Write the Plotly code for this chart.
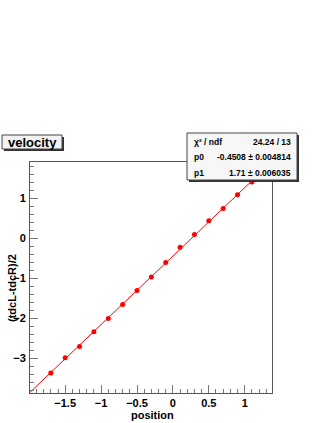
import plotly.graph_objects as go

# ========== DATA ==========
position = [-1.7, -1.5, -1.3, -1.1, -0.9, -0.7, -0.5, -0.3, -0.1, 0.1, 0.3, 0.5, 0.7, 0.9, 1.1]
half_diff = [-3.37, -2.99, -2.71, -2.34, -2.01, -1.66, -1.31, -0.97, -0.61, -0.23, 0.09, 0.43, 0.74, 1.08, 1.40]

p0, p0_err = -0.4508, 0.004814
p1, p1_err = 1.71, 0.006035
chi2, ndf = 24.24, 13

x_range = [-1.99, 1.38]
y_range = [-3.87, 1.9]

# ========== LAYOUT IN PIXELS ==========
L, R, T, B = 30, 272, 162, 393
W, H = R - L, B - T


def px(x):
    return (x - L) / W


def py(y):
    return (B - y) / H


FONT = "Liberation Sans"
fig = go.Figure()

# fit line from the fit parameters
fit_x = [x_range[0], x_range[1]]
fit_y = [p0 + p1 * v for v in fit_x]
fig.add_trace(go.Scatter(x=fit_x, y=fit_y, mode="lines",
                         line=dict(color="red", width=1), hoverinfo="skip"))
fig.add_trace(go.Scatter(x=position, y=half_diff, mode="markers",
                         marker=dict(color="red", size=5)))

axis_common = dict(showline=True, mirror=True, linecolor="#555555", linewidth=1,
                   showgrid=False, zeroline=False, ticks="inside", ticklen=8,
                   tickcolor="#777777", tickwidth=1, automargin=False,
                   tickfont=dict(family=FONT, size=11, color="black", weight="bold"))

fig.update_xaxes(range=x_range, dtick=0.5, tick0=0,
                 minor=dict(dtick=0.1, ticklen=4, ticks="inside", tickcolor="#777777"),
                 ticklabelstandoff=0, **axis_common)
fig.update_yaxes(range=y_range, dtick=1, tick0=0,
                 minor=dict(dtick=0.2, ticklen=4, ticks="inside", tickcolor="#777777"),
                 ticklabelstandoff=1, **axis_common)

shapes = []
annotations = []

# title box
shapes.append(dict(type="rect", xref="paper", yref="paper", x0=px(4), x1=px(64), y0=py(137), y1=py(151),
                   fillcolor="#333333", line=dict(width=0), layer="above"))
shapes.append(dict(type="rect", xref="paper", yref="paper", x0=px(2), x1=px(62), y0=py(135), y1=py(149),
                   fillcolor="#f2f2f2", line=dict(color="#444444", width=1), layer="above"))
annotations.append(dict(xref="paper", yref="paper", x=px(32), y=py(142), text="velocity",
                        showarrow=False, xanchor="center", yanchor="middle",
                        font=dict(family=FONT, size=13, color="black", weight="bold")))

# stats box
shapes.append(dict(type="rect", xref="paper", yref="paper", x0=px(189), x1=px(299), y0=py(135), y1=py(182),
                   fillcolor="#333333", line=dict(width=0), layer="above"))
shapes.append(dict(type="rect", xref="paper", yref="paper", x0=px(187), x1=px(297), y0=py(133), y1=py(180),
                   fillcolor="#f7f7f7", line=dict(color="#444444", width=1), layer="above"))

rows = [("χ² / ndf", f"{chi2:.2f} / {ndf}"),
        ("p0", f"{p0:.4f} ± {p0_err}"),
        ("p1", f"{p1:.2f} ± {p1_err}")]
row_y = [142, 157, 173]
for (lab, val), yy in zip(rows, row_y):
    annotations.append(dict(xref="paper", yref="paper", x=px(192), y=py(yy), text=lab,
                            showarrow=False, xanchor="left", yanchor="middle",
                            font=dict(family=FONT, size=8.5, color="black", weight="bold")))
    annotations.append(dict(xref="paper", yref="paper", x=px(293), y=py(yy), text=val,
                            showarrow=False, xanchor="right", yanchor="middle",
                            font=dict(family=FONT, size=8.5, color="black", weight="bold")))

# axis titles
annotations.append(dict(xref="paper", yref="paper", x=px(152), y=py(415), text="position",
                        showarrow=False, xanchor="center", yanchor="middle",
                        font=dict(family=FONT, size=11, color="black", weight="bold")))
annotations.append(dict(xref="paper", yref="paper", x=px(12), y=py(288), text="(tdcL-tdcR)/2",
                        showarrow=False, xanchor="center", yanchor="middle", textangle=-90,
                        font=dict(family=FONT, size=11, color="black", weight="bold")))

fig.update_layout(width=327, height=423, showlegend=False,
                  margin=dict(l=L, r=327 - R, t=T, b=423 - B, autoexpand=False),
                  paper_bgcolor="white", plot_bgcolor="white",
                  shapes=shapes, annotations=annotations)

# page body has a default 8px margin; drop it so the figure sits at the window corner
fig.write_html("out.html", config={"displayModeBar": False},
               post_script="document.body.style.margin='0';")
